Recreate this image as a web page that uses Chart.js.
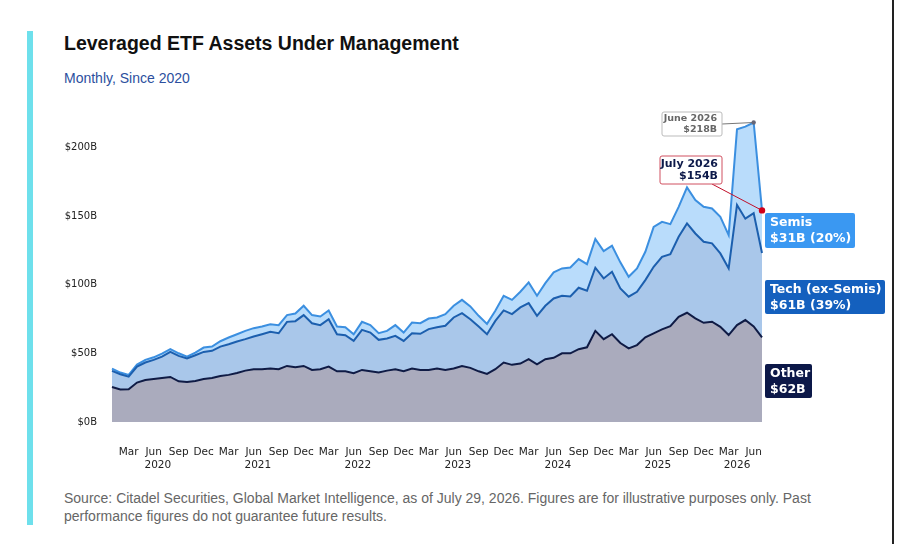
<!DOCTYPE html>
<html><head><meta charset="utf-8">
<script src="https://cdn.jsdelivr.net/npm/chart.js@4/dist/chart.umd.min.js"></script>
<style>
html,body{margin:0;padding:0;background:#fff;width:900px;height:544px;overflow:hidden;font-family:"Liberation Sans",Arial,sans-serif}
#bar{position:absolute;left:27px;top:31px;width:6px;height:494px;background:#6ee0ec}
#rb{position:absolute;left:892px;top:0;width:2px;height:544px;background:#222}
#title{position:absolute;left:64px;top:32px;font-size:19.5px;font-weight:bold;color:#111}
#sub{position:absolute;left:64px;top:70px;font-size:14px;color:#2c4f9e}
#src{position:absolute;left:64px;top:489px;font-size:14px;color:#666;line-height:18px;width:820px}
canvas{position:absolute;left:0;top:0}
</style></head><body>
<div id="bar"></div><div id="rb"></div>
<div id="title">Leveraged ETF Assets Under Management</div>
<div id="sub">Monthly, Since 2020</div>
<div id="src">Source: Citadel Securities, Global Market Intelligence, as of July 29, 2026. Figures are for illustrative purposes only. Past performance figures do not guarantee future results.</div>
<canvas id="c" width="900" height="544"></canvas>
<script>
const monthNames=["Jan","Feb","Mar","Apr","May","Jun","Jul","Aug","Sep","Oct","Nov","Dec"];
const years=[2020,2021,2022,2023,2024,2025,2026];
// cumulative totals (B USD), Jan 2020 .. Jul 2026
const otherTotal=[25.5,23.6,23.8,28.7,30.6,31.3,32,32.8,29.6,29.2,29.9,31.3,32,33.5,34.3,35.7,37.4,38.4,38.4,38.9,38.4,40.8,39.9,40.8,37.9,38.4,40.3,36.9,36.9,35.5,37.9,36.9,36,37.4,38.4,36.9,38.9,37.9,37.9,38.9,37.9,38.9,40.8,39.4,36.9,35,38.4,43.3,41.6,42.5,45.7,42,45.7,46.7,50,50,53,54.4,66.3,60.3,63.9,57.5,53.6,56,61.6,64.5,67.4,69.8,76.6,79.5,75.4,72.2,73,69.3,63.3,70.5,74.2,69.5,61.6];
const techTotal=[37.2,34.8,33,40.3,43.3,45.2,47.6,51,48.1,46.2,48.6,51,51.8,54.9,56.6,58.6,60.3,62.2,63.9,65.6,64.6,72.9,73.4,77.8,71.9,70.5,74.8,63.9,63.2,59,67.1,65.1,59.8,60.8,62.7,59,64.6,64.2,67.6,69,70,76.1,79.2,74.8,69.5,63.9,73.6,81.2,78.5,83.4,86.5,77.3,84.6,89.9,91.9,91.4,97.7,95.5,112.3,104.5,109.4,97.2,91.2,94.8,103.3,113,120.2,122.2,134.8,144.5,137.2,131.2,130,122.7,111.8,158,148,152,123];
const semisTotal=[38.9,36,34.3,41.8,45.2,47.1,49.8,53,50,47.6,50.5,54.2,54.9,58.8,61.5,63.9,66.3,68.3,69.5,71.2,70.5,77.8,79,84.6,77.8,76.8,81.2,69.5,69,63.9,72.9,70.5,64.6,66.3,70.5,65.1,72.4,71.9,75.3,76.1,78.5,84.6,88.9,84.1,77.3,71.4,80.9,91.9,88.9,94.8,101.6,91.9,101.1,108.9,111.8,112.5,118.6,114.9,133.2,124.4,128.3,116.2,105.7,111.8,123.9,142,145.7,144,156.6,170.7,161.5,156.6,155.4,149.3,136,213,215,218,154];
const yTicks=[0,50,100,150,200];
const labels=[];
years.forEach(y=>monthNames.forEach((m,i)=>{if(y<2026||i<7)labels.push(m+" "+y);}));
const shown=["Mar","Jun","Sep","Dec"];

const deco={id:'deco',afterDatasetsDraw(ch){
  const c=ch.ctx,x=ch.scales.x,y=ch.scales.y;
  c.save();
  c.font='10.5px "DejaVu Sans"';c.fillStyle='#222';c.textAlign='center';c.textBaseline='middle';
  years.forEach((yr,k)=>{const i=yr<2026?k*12+5.5:75;c.fillText(String(yr),x.getPixelForValue(i),465);});
  // June annotation
  const jx=x.getPixelForValue(77),jy=y.getPixelForValue(218);
  c.strokeStyle='#777';c.lineWidth=1;c.beginPath();c.moveTo(722,124);c.lineTo(jx,jy);c.stroke();
  c.fillStyle='#fff';c.strokeStyle='#bbb';c.beginPath();c.roundRect(662,112,60,24,2);c.fill();c.stroke();
  c.fillStyle='#666';c.font='bold 9.5px "DejaVu Sans"';c.textAlign='right';
  c.fillText('June 2026',717,119);c.fillText('$218B',717,130);
  c.fillStyle='#667';c.beginPath();c.arc(jx,jy,2.2,0,7);c.fill();
  // July annotation
  const lx=x.getPixelForValue(78),ly=y.getPixelForValue(154);
  c.strokeStyle='#c0102a';c.beginPath();c.moveTo(712,184);c.lineTo(lx,ly);c.stroke();
  c.fillStyle='#fff';c.strokeStyle='#d05060';c.beginPath();c.roundRect(660,156,62,28,2);c.fill();c.stroke();
  c.fillStyle='#0d1a4a';c.font='bold 11px "DejaVu Sans"';
  c.fillText('July 2026',718,164);c.fillText('$154B',718,176);
  c.fillStyle='#d0001a';c.beginPath();c.arc(lx,ly,3.2,0,7);c.fill();
  // side labels
  const box=(bx,by,w,h,col,t1,t2)=>{c.fillStyle=col;c.beginPath();c.roundRect(bx,by,w,h,2);c.fill();
    c.fillStyle='#fff';c.font='bold 12.5px "DejaVu Sans"';c.textAlign='left';c.fillText(t1,bx+5,by+10);c.fillText(t2,bx+5,by+26);};
  box(765,213,90,35,'#3a98f2','Semis','$31B (20%)');
  box(765,280,120,34,'#1460be','Tech (ex-Semis)','$61B (39%)');
  box(765,364,47,34,'#0c1848','Other','$62B');
  c.restore();
}};

new Chart(document.getElementById('c'),{
  type:'line',
  data:{labels,datasets:[
    {data:otherTotal,borderColor:'#0f1b45',backgroundColor:'#aaabbd',fill:'origin',borderWidth:2,pointRadius:0,tension:0},
    {data:techTotal,borderColor:'#1c5fae',backgroundColor:'#a9c7ea',fill:'-1',borderWidth:2,pointRadius:0,tension:0},
    {data:semisTotal,borderColor:'#3b8fe0',backgroundColor:'#b9dcfb',fill:'-1',borderWidth:2,pointRadius:0,tension:0}
  ]},
  options:{responsive:false,animation:false,
    layout:{padding:{top:106,right:138,left:0,bottom:0}},
    plugins:{legend:{display:false},tooltip:{enabled:false}},
    scales:{
      x:{offset:false,grid:{display:false},border:{display:false},
        afterFit(s){s.height=122;},
        ticks:{autoSkip:false,maxRotation:0,padding:16,color:'#222',font:{family:'DejaVu Sans',size:10.5},
          callback(v,i){const m=labels[i].split(' ')[0];return (shown.includes(m)||i===77)?m:'';}}},
      y:{min:0,max:230,grid:{display:false},border:{display:false},
        afterFit(s){s.width=112;},
        afterBuildTicks(s){s.ticks=yTicks.map(v=>({value:v}));},
        ticks:{padding:7,color:'#222',font:{family:'DejaVu Sans',size:10},callback:v=>'$'+v+'B'}}
    }},
  plugins:[deco]
});
</script></body></html>
